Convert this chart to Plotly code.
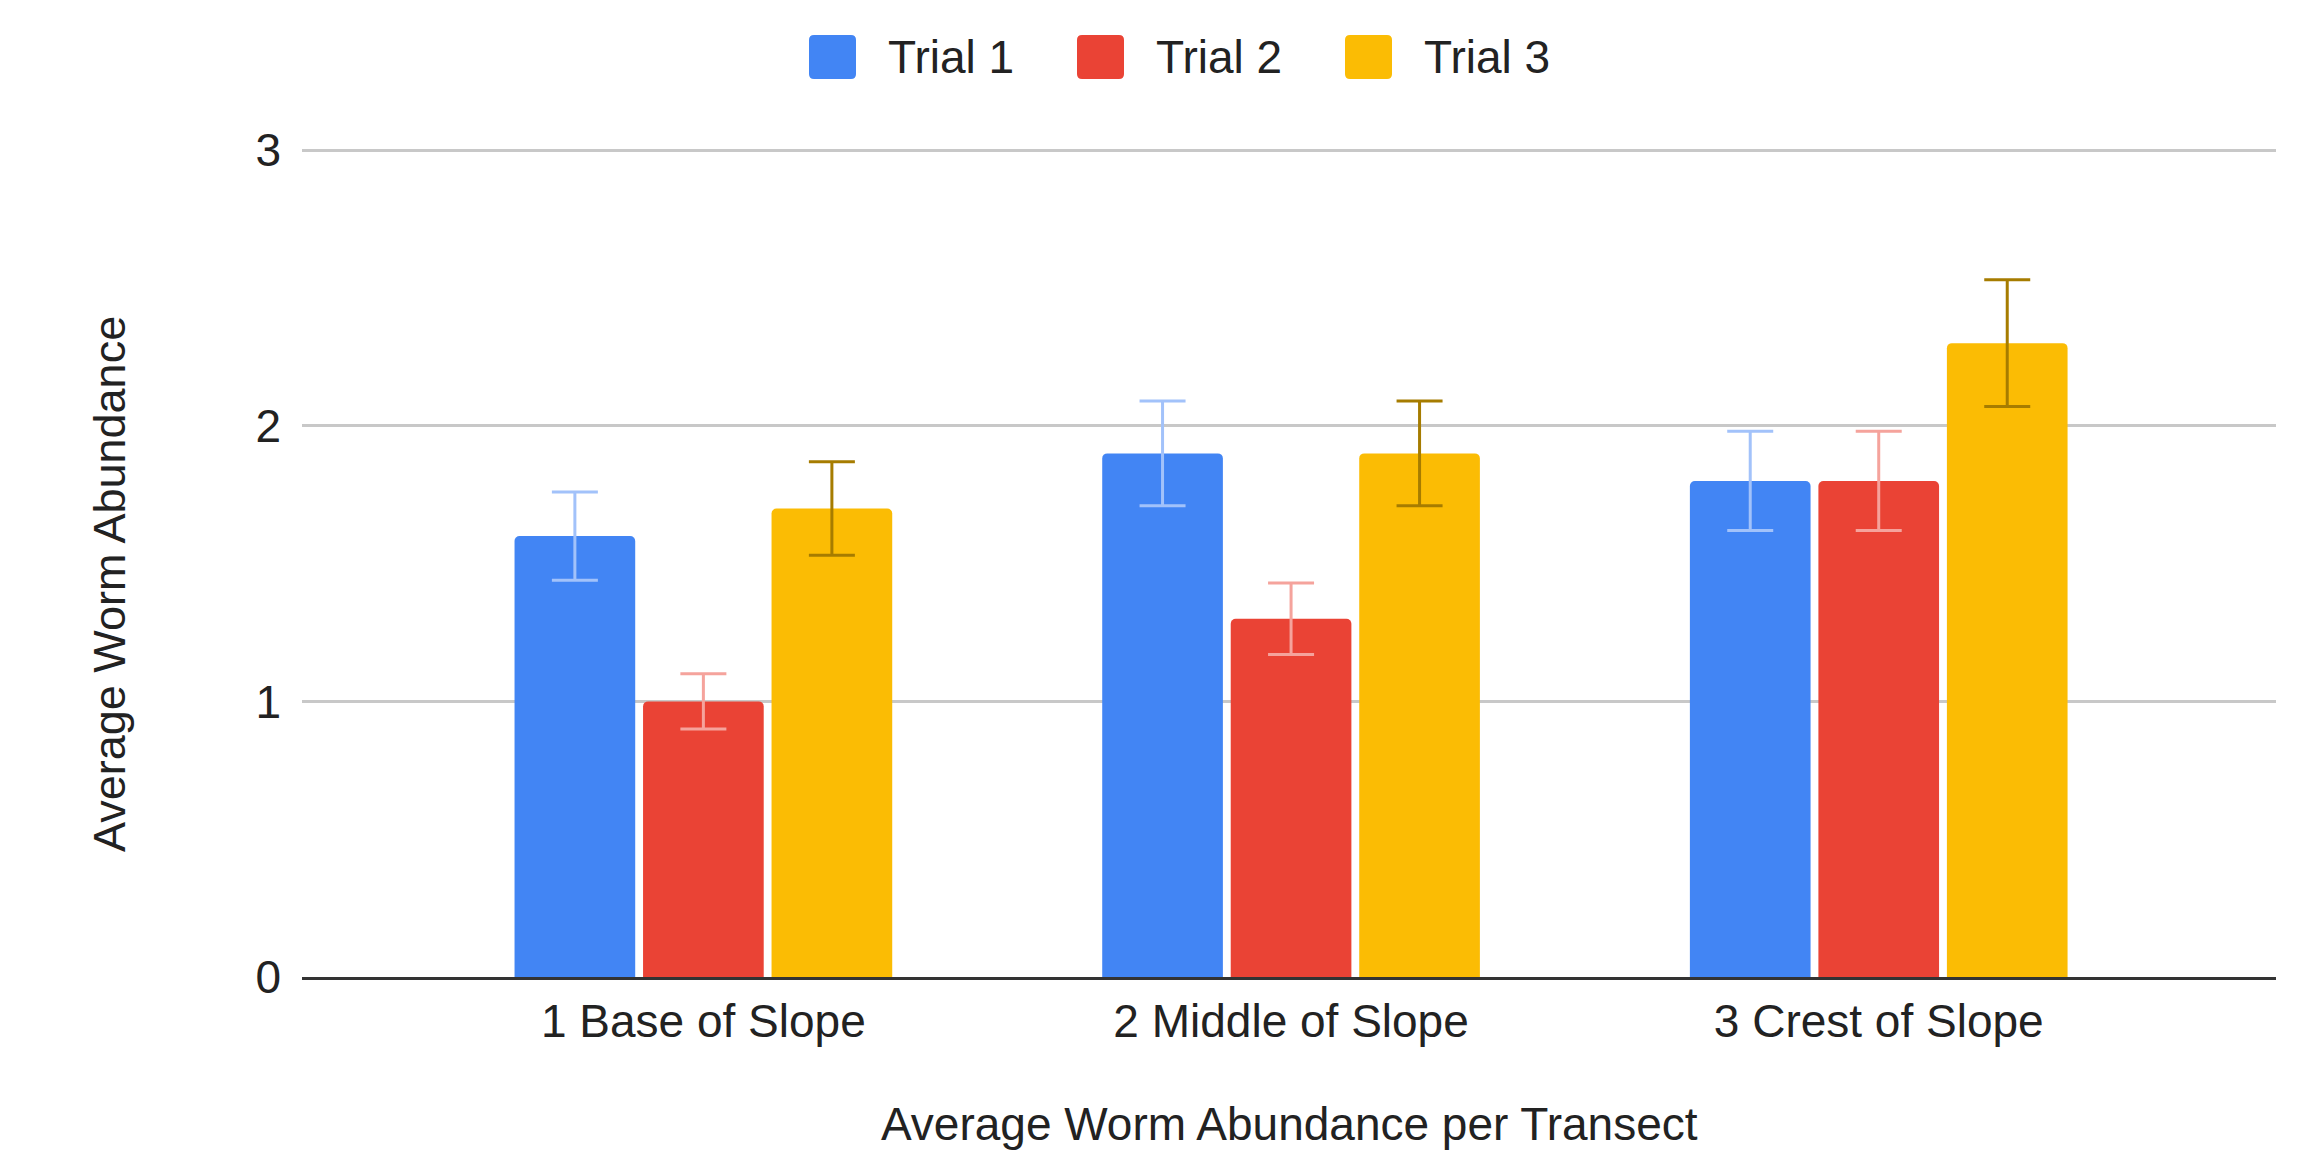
import plotly.graph_objects as go

# ---------------- data ----------------
categories = ["1 Base of Slope", "2 Middle of Slope", "3 Crest of Slope"]
series_names = ["Trial 1", "Trial 2", "Trial 3"]
trial1 = [1.6, 1.9, 1.8]
trial2 = [1.0, 1.3, 1.8]
trial3 = [1.7, 1.9, 2.3]
error_percent = 10
y_ticks = [0, 1, 2, 3]
x_title = "Average Worm Abundance per Transect"
y_title = "Average Worm Abundance"

# ---------------- style ----------------
bar_colors = ["#4285F4", "#EA4335", "#FBBC04"]
err_colors = ["#A2C2FA", "#F5A39C", "#A67C00"]
FONT = "Liberation Sans, Arial, Helvetica, sans-serif"
TXT = "#222222"
FS = 46

OFF = 8  # page body margin
PAGE_W, PAGE_H = 2303, 1155
W, H = PAGE_W - OFF, PAGE_H - OFF
# target pixel positions in the page
PLOT_X0, PLOT_X1 = 302, 2276
PLOT_Y_TOP, PLOT_Y0 = 149, 977
L = PLOT_X0 - OFF
R = OFF + W - PLOT_X1
T = PLOT_Y_TOP - OFF
B = OFF + H - PLOT_Y0
PW, PH = W - L - R, H - T - B
Y_MAX = 3


def px_x(px):
    return (px - PLOT_X0) / PW


def px_y(py):
    return (PLOT_Y0 - py) / PH


fig = go.Figure()
for name, vals, c, ec in zip(series_names, [trial1, trial2, trial3], bar_colors, err_colors):
    fig.add_trace(go.Bar(
        name=name, x=categories, y=vals,
        marker=dict(color=c, line=dict(width=0)),
        error_y=dict(type="percent", value=error_percent, color=ec,
                     thickness=3, width=23, visible=True),
        showlegend=False,
    ))


def rounded_path(x0, y0, x1, y1, r):
    rx = r / PW
    ry = r / PH
    a0, a1 = px_x(x0), px_x(x1)
    b0, b1 = px_y(y0), px_y(y1)
    return (f"M{a0+rx},{b0} L{a1-rx},{b0} Q{a1},{b0} {a1},{b0-ry} "
            f"L{a1},{b1+ry} Q{a1},{b1} {a1-rx},{b1} L{a0+rx},{b1} "
            f"Q{a0},{b1} {a0},{b1+ry} L{a0},{b0-ry} Q{a0},{b0} {a0+rx},{b0} Z")


shapes = []
annotations = []
leg_x0 = 809
pitch = 268
sq_w, sq_h = 47, 44
leg_cy = 57
for i, (name, c) in enumerate(zip(series_names, bar_colors)):
    x0 = leg_x0 + i * pitch
    shapes.append(dict(type="path", xref="paper", yref="paper",
                       path=rounded_path(x0, leg_cy - sq_h / 2, x0 + sq_w, leg_cy + sq_h / 2, 5),
                       fillcolor=c, line=dict(width=0), layer="above"))
    annotations.append(dict(xref="paper", yref="paper", x=px_x(x0 + sq_w + 30), y=px_y(leg_cy),
                            xanchor="left", yanchor="middle", showarrow=False,
                            text=name, font=dict(family=FONT, size=FS, color=TXT)))

annotations.append(dict(xref="paper", yref="paper", x=0.5, y=px_y(1124),
                        xanchor="center", yanchor="middle", showarrow=False,
                        text=x_title, font=dict(family=FONT, size=FS, color=TXT)))
annotations.append(dict(xref="paper", yref="paper", x=px_x(109), y=px_y(584),
                        xanchor="center", yanchor="middle", showarrow=False, textangle=-90,
                        text=y_title, font=dict(family=FONT, size=45, color=TXT)))

fig.update_layout(
    width=W, height=H,
    margin=dict(l=L, r=R, t=T, b=B, pad=0),
    paper_bgcolor="white", plot_bgcolor="white",
    barmode="group", bargap=0.344, bargroupgap=0.061, barcornerradius=5,
    font=dict(family=FONT, size=FS, color=TXT),
    shapes=shapes, annotations=annotations,
    showlegend=False,
)
fig.update_xaxes(
    type="category", range=[-0.683, 2.676],
    showgrid=False, showline=True, linecolor="#333333", linewidth=3,
    ticks="", ticklabelstandoff=2, tickfont=dict(family=FONT, size=FS, color=TXT),
)
fig.update_yaxes(
    range=[0, Y_MAX * 1.0015], tickvals=y_ticks, ticktext=[str(v) for v in y_ticks],
    showgrid=True, gridcolor="#C8C8C8", gridwidth=2.5, zeroline=False,
    showline=False, ticks="", ticklabelstandoff=20,
    tickfont=dict(family=FONT, size=FS, color=TXT),
)

fig.write_html("out.html")
